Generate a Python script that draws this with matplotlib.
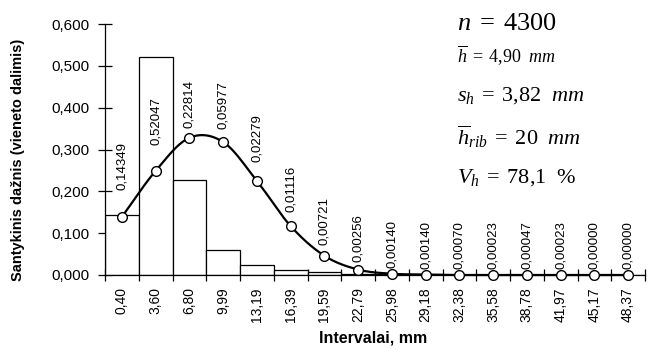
import numpy as np
import matplotlib
matplotlib.use("Agg")
import matplotlib.pyplot as plt

plt.rcParams['font.family'] = ['Liberation Sans', 'DejaVu Sans']
plt.rcParams['mathtext.fontset'] = 'custom'
plt.rcParams['mathtext.rm'] = 'Liberation Serif'
plt.rcParams['mathtext.it'] = 'Liberation Serif:italic'

# ---- data ----
interval_labels = ["0,40", "3,60", "6,80", "9,99", "13,19", "16,39", "19,59", "22,79",
                   "25,98", "29,18", "32,38", "35,58", "38,78", "41,97", "45,17", "48,37"]
rel_freq = [0.14349, 0.52047, 0.22814, 0.05977, 0.02279, 0.01116, 0.00721, 0.00256,
            0.00140, 0.00140, 0.00070, 0.00023, 0.00047, 0.00023, 0.00000, 0.00000]
rel_freq_labels = ["0,14349", "0,52047", "0,22814", "0,05977", "0,02279", "0,01116",
                   "0,00721", "0,00256", "0,00140", "0,00140", "0,00070", "0,00023",
                   "0,00047", "0,00023", "0,00000", "0,00000"]
theory = [0.139, 0.249, 0.328, 0.318, 0.225, 0.117, 0.046, 0.013,
          0.003, 0.001, 0.000, 0.000, 0.000, 0.000, 0.000, 0.000]
yticks = [0.0, 0.1, 0.2, 0.3, 0.4, 0.5, 0.6]
ytick_labels = ["0,000", "0,100", "0,200", "0,300", "0,400", "0,500", "0,600"]
# label offsets above markers (pixels) - layout only
label_gap_px = [27, 26, 10, 13, 19, 14, 11, 8, 6, 6, 6, 6, 6, 6, 6, 6]

fig = plt.figure(figsize=(6.5, 3.49), dpi=100)
ax = fig.add_axes([105/650, 1-275/349, 540/650, (275-24)/349])

n = len(rel_freq)
edges = np.arange(n)
centers = edges + 0.5
ax.bar(edges, rel_freq, width=1.0, align='edge', facecolor='white',
       edgecolor='black', linewidth=0.9, zorder=2)

# smooth line through points (Catmull-Rom, like Excel smoothed line)
def catmull(xs, ys, k=20):
    xs = np.asarray(xs, float); ys = np.asarray(ys, float)
    px = np.concatenate([[2*xs[0]-xs[1]], xs, [2*xs[-1]-xs[-2]]])
    py = np.concatenate([[2*ys[0]-ys[1]], ys, [2*ys[-1]-ys[-2]]])
    ox, oy = [], []
    for i in range(1, len(px)-2):
        t = np.linspace(0, 1, k, endpoint=False)
        for arr, out in ((px, ox), (py, oy)):
            p0, p1, p2, p3 = arr[i-1], arr[i], arr[i+1], arr[i+2]
            out.extend(0.5*((2*p1) + (-p0+p2)*t + (2*p0-5*p1+4*p2-p3)*t**2 + (-p0+3*p1-3*p2+p3)*t**3))
    ox.append(xs[-1]); oy.append(ys[-1])
    return np.array(ox), np.array(oy)

sx, sy = catmull(centers, theory)
sy = np.clip(sy, 0, None)
ax.plot(sx, sy, color='black', linewidth=1.6, zorder=3, clip_on=False)
ax.plot(centers, theory, linestyle='none', marker='o', markersize=7,
        markerfacecolor='white', markeredgecolor='black', markeredgewidth=1.0,
        zorder=4, clip_on=False)

for xc, yv, lab, gap in zip(centers, theory, rel_freq_labels, label_gap_px):
    ax.annotate(lab, (xc, yv), xytext=(0, gap*0.72), textcoords='offset points',
                rotation=90, ha='center', va='bottom', fontsize=9.5, zorder=5)

ax.set_xlim(0, n)
ax.set_ylim(0, 0.6)
ax.set_yticks(yticks)
ax.set_yticklabels(ytick_labels, fontsize=11)
ax.set_xticks(edges.tolist() + [n])
ax.set_xticklabels([])
ax.set_xticks(centers, minor=True)
ax.set_xticklabels(interval_labels, minor=True, rotation=90, fontsize=10)
ax.tick_params(axis='x', which='minor', length=0, pad=9)
ax.tick_params(axis='x', which='major', direction='inout', length=8, width=0.9)
ax.tick_params(axis='y', direction='inout', length=10, width=0.9, pad=6)

for s in ['top', 'right']:
    ax.spines[s].set_visible(False)
for s in ['left', 'bottom']:
    ax.spines[s].set_linewidth(0.9)

fig.text(18/650, 1-160/349, "Santykinis dažnis (vieneto dalimis)", rotation=90,
         ha='center', va='center', fontsize=10.5, fontweight='bold')
fig.text(373/650, 1-338/349, "Intervalai, mm", ha='center', va='center',
         fontsize=11.5, fontweight='bold')

tx = 457/650
fig.text(tx, 1-30/349, r"$n\;=\;4300$", fontsize=19, va='baseline')
fig.text(tx, 1-63/349, r"$\overline{h}\;=\;4{,}90\ \ mm$", fontsize=13, va='baseline')
fig.text(tx, 1-101/349, r"$s_h\;=\;3{,}82\ \ mm$", fontsize=16, va='baseline')
fig.text(tx, 1-145/349, r"$\overline{h}_{rib}\;=\;20\ \ mm$", fontsize=16, va='baseline')
fig.text(tx, 1-183/349, r"$V_h\;=\;78{,}1\ \ \%$", fontsize=16, va='baseline')

fig.savefig("out.png", dpi=100)
